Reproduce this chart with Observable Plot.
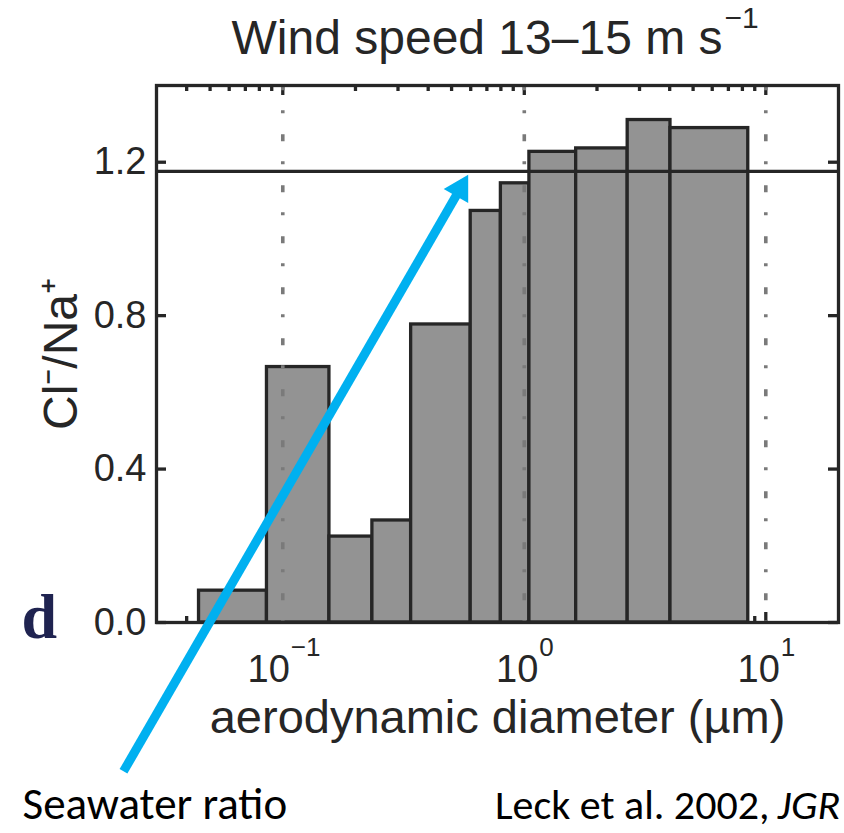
<!DOCTYPE html>
<html>
<head>
<meta charset="utf-8">
<script src="https://cdn.jsdelivr.net/npm/d3@7"></script>
<script src="https://cdn.jsdelivr.net/npm/@observablehq/plot@0.6"></script>
<style>
  html, body { margin: 0; padding: 0; background: #fff; }
</style>
</head>
<body>
<div id="chart"></div>
<script>
// ---- data ----
const binEdges = [0.045, 0.086, 0.156, 0.235, 0.34, 0.60, 0.80, 1.05, 1.64, 2.68, 4.03, 8.46]; // µm
const clNaRatio = [0.083, 0.666, 0.224, 0.266, 0.777, 1.073, 1.145, 1.227, 1.236, 1.310, 1.289];
const seawaterRatio = [1.176];
const yTicks = [0, 0.4, 0.8, 1.2];
const xMajorTicks = [0.1, 1, 10];
const xTickExponents = ["−1", "0", "1"];
const xMinorTicks = [0.04, 0.05, 0.06, 0.07, 0.08, 0.09,
                     0.2, 0.3, 0.4, 0.5, 0.6, 0.7, 0.8, 0.9,
                     2, 3, 4, 5, 6, 7, 8, 9];
const titleText = ["Wind speed 13–15 m s"];
const titleExponent = ["−1"];
const xLabel = ["aerodynamic diameter (µm)"];
const yLabel = ["Cl⁻/Na⁺"];
const panelLetter = ["d"];
const noteText = ["Seawater ratio"];
const citeText = ["Leck et al. 2002,"];
const citeJournal = ["JGR"];
const arrowAnnotation = [{x1: 0.0219, y1: -0.388, x2: 0.586, y2: 1.167}];

const bars = clNaRatio.map((v, i) => ({x1: binEdges[i], x2: binEdges[i + 1], y: v}));

// ---- layout ----
const W = 844, H = 833;
const mL = 156, mR = 6, mT = 85, mB = 211;
const innerW = W - mL - mR, innerH = H - mT - mB;
const ink = "#262626";
const txt = "#262626";
const blue = "#00b0f0";
const sans = "'Liberation Sans', Arial, Helvetica, sans-serif";
const calibri = "Carlito, Calibri, Lato, 'Open Sans', sans-serif";
const lw = 3.3;

const xTickLabelMarks = xMajorTicks.flatMap((t, i) => {
  const shift = xTickExponents[i].length > 1 ? 7 : 14;
  return [
    Plot.text([t], {x: d => d, frameAnchor: "bottom", text: () => "10", textAnchor: "end",
      lineAnchor: "bottom", dx: shift, dy: 59, fontSize: 38, fill: txt}),
    Plot.text([t], {x: d => d, frameAnchor: "bottom", text: () => xTickExponents[i], textAnchor: "start",
      lineAnchor: "bottom", dx: shift + 1, dy: 33, fontSize: 26, fill: txt})
  ];
});

const chart = Plot.plot({
  width: W,
  height: H,
  marginLeft: mL,
  marginRight: mR,
  marginTop: mT,
  marginBottom: mB,
  style: {fontFamily: sans, background: "#fff", overflow: "visible"},
  x: {type: "log", domain: [0.03, 20], axis: null},
  y: {domain: [0, 1.4], axis: null},
  marks: [
    // inward ticks
    Plot.tickX(xMinorTicks, {x: d => d, stroke: ink, strokeWidth: lw, insetBottom: innerH - 6}),
    Plot.tickX(xMinorTicks, {x: d => d, stroke: ink, strokeWidth: lw, insetTop: innerH - 6}),
    Plot.tickX(xMajorTicks, {x: d => d, stroke: ink, strokeWidth: lw, insetBottom: innerH - 10}),
    Plot.tickX(xMajorTicks, {x: d => d, stroke: ink, strokeWidth: lw, insetTop: innerH - 10}),
    Plot.tickY(yTicks, {y: d => d, stroke: ink, strokeWidth: lw, insetRight: innerW - 10}),
    Plot.tickY(yTicks, {y: d => d, stroke: ink, strokeWidth: lw, insetLeft: innerW - 10}),
    // bars
    Plot.rectY(bars, {x1: "x1", x2: "x2", y: "y", fill: "#939393", stroke: ink, strokeWidth: lw}),
    // dotted decade grid
    Plot.ruleX(xMajorTicks, {x: d => d, stroke: "#7a7a7a", strokeWidth: 3.6,
      strokeDasharray: "7,20,3,21", strokeDashoffset: 1.7}),
    // seawater ratio line
    Plot.ruleY(seawaterRatio, {y: d => d, stroke: ink, strokeWidth: lw}),
    Plot.frame({stroke: ink, strokeWidth: lw}),
    // y tick labels
    Plot.text(yTicks, {y: d => d, frameAnchor: "left", text: d => d3.format(".1f")(d),
      textAnchor: "end", dx: -10, fontSize: 38, fill: txt}),
    // x tick labels
    ...xTickLabelMarks,
    // title
    Plot.text(titleText, {frameAnchor: "top", text: d => d, textAnchor: "end", lineAnchor: "bottom",
      dx: 225, dy: -32, fontSize: 48, fill: txt}),
    Plot.text(titleExponent, {frameAnchor: "top", text: d => d, textAnchor: "start", lineAnchor: "bottom",
      dx: 227, dy: -58, fontSize: 30, fill: txt}),
    // axis labels
    Plot.text(xLabel, {frameAnchor: "bottom", text: d => d, lineAnchor: "bottom", textAnchor: "middle",
      dy: 110, fontSize: 47, fill: txt}),
    Plot.text(yLabel, {frameAnchor: "left", text: d => d, rotate: -90, lineAnchor: "bottom", textAnchor: "middle",
      dx: -80, fontSize: 48, fill: txt}),
    // panel letter
    Plot.text(panelLetter, {frameAnchor: "bottom-left", text: d => d, textAnchor: "start", lineAnchor: "bottom",
      dx: -135, dy: 15, fontSize: 64, fontWeight: "bold",
      fontFamily: "'Liberation Serif', 'Times New Roman', serif", fill: "#1f2350"}),
    // annotations
    Plot.arrow(arrowAnnotation, {x1: "x1", y1: "y1", x2: "x2", y2: "y2", stroke: blue, strokeWidth: 9,
      headLength: 0, insetEnd: 15, strokeLinecap: "butt"}),
    Plot.dot(arrowAnnotation, {x: "x2", y: "y2", symbol: "triangle", r: 10.5, fill: blue, stroke: "none",
      rotate: 30, dx: -8.2, dy: 14.1}),
    Plot.text(noteText, {frameAnchor: "bottom-left", text: d => d, textAnchor: "start", lineAnchor: "bottom",
      dx: -134, dy: 196, fontSize: 45, fontFamily: calibri, fill: "#000"}),
    Plot.text(citeText, {frameAnchor: "bottom-left", text: d => d, textAnchor: "end", lineAnchor: "bottom",
      dx: 613, dy: 196, fontSize: 42, fontFamily: calibri, fill: "#000"}),
    Plot.text(citeJournal, {frameAnchor: "bottom-left", text: d => d, textAnchor: "start", lineAnchor: "bottom",
      dx: 621, dy: 196, fontSize: 42, fontFamily: calibri, fontStyle: "italic", fill: "#000"})
  ]
});

document.getElementById("chart").appendChild(chart);
</script>
</body>
</html>
